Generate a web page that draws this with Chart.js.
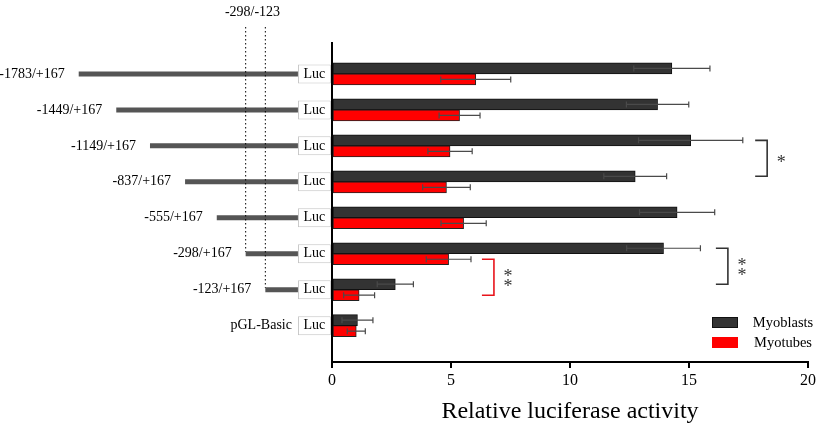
<!DOCTYPE html>
<html>
<head>
<meta charset="utf-8">
<script src="https://cdn.jsdelivr.net/npm/chart.js@4.4.1/dist/chart.umd.min.js"></script>
<style>
  html, body { margin: 0; padding: 0; background: #fff; }
  #wrap { width: 829px; height: 426px; }
</style>
</head>
<body>
<div id="wrap"><canvas id="chart"></canvas></div>
<script>
// promoter constructs, top to bottom
const constructs = ['-1783/+167', '-1449/+167', '-1149/+167', '-837/+167', '-555/+167', '-298/+167', '-123/+167', 'pGL-Basic'];
const constructStart = [-1783, -1449, -1149, -837, -555, -298, -123, null];
const constructEnd = 167;
const lucEnd = 460;
const deletionMarks = [-298, -123];
const deletionLabel = '-298/-123';

const myoblasts = [14.28, 13.68, 15.07, 12.74, 14.50, 13.93, 2.66, 1.07];
const myoblastsErr = [1.60, 1.31, 2.19, 1.32, 1.58, 1.55, 0.76, 0.65];
const myotubes = [6.04, 5.36, 4.96, 4.81, 5.53, 4.90, 1.14, 1.02];
const myotubesErr = [1.47, 0.86, 0.93, 1.00, 0.95, 0.94, 0.65, 0.38];

const xTicks = [0, 5, 10, 15, 20];

// significance brackets: series, rows joined, x where the arms start, stars
const brackets = [
  { series: 0, from: 2, to: 3, x: 17.78, stars: 1, color: '#333' },
  { series: 0, from: 5, to: 6, x: 16.13, stars: 2, color: '#333' },
  { series: 1, from: 5, to: 6, x: 6.30, stars: 2, color: '#e8141b' },
];

const serif = "'Liberation Serif', 'Times New Roman', serif";
Chart.defaults.font.family = serif;
Chart.defaults.color = '#000';

const rows = constructs.map((c, i) => i);

const annotate = {
  id: 'annotate',
  afterDatasetsDraw(chart) {
    const { ctx, chartArea, scales } = chart;
    const x = scales.x, xg = scales.xg;
    const bars = (i) => chart.getDatasetMeta(i).data;
    const lucBars = bars(3);
    const lineBars = bars(2);
    ctx.save();

    // error bars
    [[0, myoblasts, myoblastsErr], [1, myotubes, myotubesErr]].forEach(([di, vals, errs]) => {
      bars(di).forEach((bar, i) => {
        const y = bar.y;
        const x0 = x.getPixelForValue(vals[i] - errs[i]);
        const x1 = x.getPixelForValue(vals[i] + errs[i]);
        ctx.strokeStyle = '#4a4a4a';
        ctx.lineWidth = 1.2;
        ctx.beginPath();
        ctx.moveTo(x0, y); ctx.lineTo(x1, y);
        ctx.moveTo(x0, y - 3); ctx.lineTo(x0, y + 3);
        ctx.moveTo(x1, y - 3); ctx.lineTo(x1, y + 3);
        ctx.stroke();
      });
    });

    // construct labels and Luc text
    ctx.font = '14px ' + serif;
    ctx.fillStyle = '#000';
    ctx.textBaseline = 'middle';
    lucBars.forEach((bar, i) => {
      ctx.textAlign = 'center';
      ctx.fillText('Luc', (bar.x + bar.base) / 2, bar.y);
      ctx.textAlign = 'right';
      const s = constructStart[i];
      const lx = s === null ? bar.base - 6 : xg.getPixelForValue(s) - 14;
      ctx.fillText(constructs[i], lx, bar.y);
    });

    // dotted deletion marks
    ctx.strokeStyle = '#000';
    ctx.lineWidth = 1;
    ctx.setLineDash([1.5, 2.5]);
    const markX = deletionMarks.map(m => xg.getPixelForValue(m));
    deletionMarks.forEach((m, k) => {
      const row = constructStart.indexOf(m);
      const el = lineBars[row];
      ctx.beginPath();
      ctx.moveTo(markX[k], chartArea.top - 16);
      ctx.lineTo(markX[k], el.y - 2);
      ctx.stroke();
    });
    ctx.setLineDash([]);
    ctx.textAlign = 'center';
    ctx.fillText(deletionLabel, (markX[0] + markX[1]) / 2 - 3, chartArea.top - 31);

    // significance brackets
    brackets.forEach(b => {
      const ya = bars(b.series)[b.from].y;
      const yb = bars(b.series)[b.to].y;
      const xa = x.getPixelForValue(b.x);
      const xv = xa + 12;
      ctx.strokeStyle = b.color;
      ctx.lineWidth = 1.6;
      ctx.beginPath();
      ctx.moveTo(xa, ya); ctx.lineTo(xv, ya); ctx.lineTo(xv, yb); ctx.lineTo(xa, yb);
      ctx.stroke();
      ctx.fillStyle = '#333';
      ctx.font = '18px ' + serif;
      ctx.textBaseline = 'alphabetic';
      const mid = (ya + yb) / 2;
      const offs = b.stars === 1 ? [0] : [-5, 5];
      offs.forEach(o => ctx.fillText('*', xv + 14, mid + o + 9.5));
    });

    // legend
    ctx.font = '14.5px ' + serif;
    ctx.textBaseline = 'middle';
    ctx.textAlign = 'center';
    [0, 1].forEach(di => {
      const ds = chart.data.datasets[di];
      const by = chartArea.bottom - 45 + di * 20;
      ctx.fillStyle = ds.backgroundColor;
      ctx.fillRect(chartArea.right - 96, by, 26, 11);
      if (di === 0) {
        ctx.strokeStyle = '#111';
        ctx.lineWidth = 1;
        ctx.strokeRect(chartArea.right - 95.5, by + 0.5, 25, 10);
      }
      ctx.fillStyle = '#000';
      ctx.fillText(ds.label, chartArea.right - 25, by + 6.5);
    });

    ctx.restore();
  }
};

new Chart(document.getElementById('chart'), {
  type: 'bar',
  data: {
    datasets: [
      {
        label: 'Myoblasts',
        data: myoblasts.map((v, i) => ({ x: v, y: rows[i] })),
        xAxisID: 'x',
        backgroundColor: '#333333',
        borderColor: '#111',
        borderWidth: 1,
        borderSkipped: false,
        barThickness: 11,
      },
      {
        label: 'Myotubes',
        data: myotubes.map((v, i) => ({ x: v, y: rows[i] })),
        xAxisID: 'x',
        backgroundColor: '#ff0000',
        borderColor: '#222',
        borderWidth: 1,
        borderSkipped: false,
        barThickness: 11,
      },
      {
        label: 'construct',
        data: constructStart
          .map((s, i) => ({ x: [s, constructEnd], y: rows[i] }))
          .filter(d => d.x[0] !== null),
        xAxisID: 'xg',
        grouped: false,
        clip: false,
        maxBarThickness: 5,
        backgroundColor: '#555555',
        borderWidth: 0,
      },
      {
        label: 'Luc',
        data: rows.map(i => ({ x: [constructEnd, lucEnd], y: i })),
        xAxisID: 'xg',
        grouped: false,
        clip: false,
        maxBarThickness: 19,
        backgroundColor: '#ffffff',
        borderColor: '#c4c4c4',
        borderWidth: 1,
        borderSkipped: false,
      },
    ],
  },
  options: {
    indexAxis: 'y',
    responsive: true,
    maintainAspectRatio: false,
    animation: false,
    layout: { padding: { left: 324, right: 21, top: 43, bottom: 0 } },
    plugins: {
      legend: { display: false },
      tooltip: { enabled: false },
    },
    scales: {
      x: {
        type: 'linear',
        position: 'bottom',
        min: 0,
        max: 20,
        offset: false,
        afterBuildTicks: (axis) => { axis.ticks = xTicks.map(v => ({ value: v })); },
        ticks: { color: '#000', font: { size: 16 }, padding: 3 },
        grid: { drawOnChartArea: false, drawTicks: true, tickLength: 6, color: '#000', lineWidth: 2 },
        border: { display: true, color: '#000', width: 2 },
        title: {
          display: true,
          text: 'Relative luciferase activity',
          color: '#000',
          font: { size: 24 },
          padding: { top: 4, bottom: 0 },
        },
      },
      xg: { type: 'linear', axis: 'x', position: 'bottom', display: false, offset: false, min: 470, max: 4704 },
      y: {
        type: 'linear',
        reverse: true,
        offset: false,
        min: -0.86,
        max: 8.01,
        ticks: { display: false },
        grid: { display: false, offset: false },
        border: { display: true, color: '#000', width: 2 },
      },
    },
  },
  plugins: [annotate],
});
</script>
</body>
</html>
